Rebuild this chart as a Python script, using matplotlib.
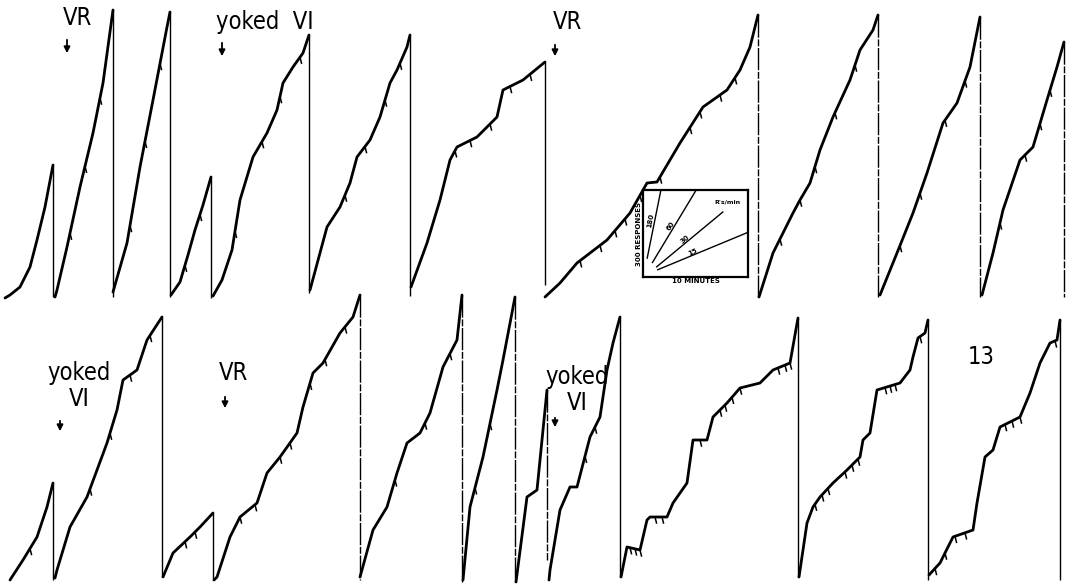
import numpy as np
import matplotlib.pyplot as plt

# cumulative records, top row (x = paper position, y = pen height, screen-down)
top_x = [
    [5, 10, 20, 30, 37, 45, 53],
    [55, 57, 67, 80, 93, 103, 113],
    [113, 127, 140, 153, 167, 170],
    [171, 180, 188, 195, 203, 211],
    [213, 222, 232, 240, 253, 267, 277, 283, 293, 303, 309],
    [310, 327, 340, 350, 357, 370, 380, 390, 397, 407, 410],
    [411, 427, 440, 450, 457, 477, 497, 503, 523, 545],
    [545, 560, 577, 607, 630, 647, 657, 680, 703, 727, 740, 750, 758],
    [759, 773, 793, 800, 810, 820, 833, 850, 860, 873, 878],
    [880, 897, 913, 927, 943, 957, 970, 980],
    [982, 993, 1003, 1020, 1033, 1047, 1057, 1064],
]
top_y = [
    [298, 295, 287, 267, 240, 207, 165],
    [297, 290, 247, 187, 133, 83, 10],
    [292, 243, 167, 100, 27, 12],
    [295, 282, 255, 230, 205, 177],
    [296, 280, 250, 200, 157, 133, 110, 83, 67, 53, 35],
    [290, 227, 207, 183, 157, 140, 117, 83, 70, 47, 35],
    [287, 243, 200, 160, 147, 137, 117, 90, 80, 62],
    [297, 283, 263, 240, 213, 183, 182, 143, 107, 90, 70, 47, 15],
    [297, 253, 213, 200, 183, 150, 117, 80, 50, 30, 15],
    [295, 253, 213, 173, 123, 103, 67, 17],
    [295, 253, 210, 160, 147, 100, 67, 42],
]
top_reset = [297, 297, 297, 298, 293, 296, 285, 297, 297, 297, 297]
top_broken = [False, False, False, False, False, False, False, True, True, True, True]
top_pips = [
    [], [70, 85, 100], [130, 145, 160], [185, 200],
    [235, 262, 280, 300], [345, 365, 385, 400],
    [455, 470, 490, 510, 530],
    [580, 600, 615, 625, 640, 660, 690, 700, 720, 735],
    [780, 800, 815, 835, 855], [900, 920, 945, 965],
    [1000, 1025, 1040, 1050],
]

# bottom row
bot_x = [
    [10, 23, 37, 47, 53],
    [55, 57, 70, 87, 97, 107, 117, 123, 137, 147, 162],
    [163, 173, 190, 200, 213],
    [214, 217, 230, 240, 257, 267, 280, 297, 303, 313, 323, 340, 353, 360],
    [360, 373, 387, 397, 407, 420, 430, 443, 457, 462],
    [463, 470, 483, 497, 503, 515],
    [516, 527, 537, 547],
    [549, 550, 560, 570, 577, 590, 600, 607, 613, 620],
    [621, 627, 640, 647, 650, 667, 673, 687, 693, 707, 713, 727, 740, 760, 773, 790, 798],
    [799, 807, 813, 820, 833, 847, 860, 863, 870, 877, 900, 910, 913, 918, 925, 928],
    [929, 940, 953, 973, 977, 985, 993, 1000, 1020, 1030, 1040, 1050, 1057, 1060],
]
bot_y = [
    [580, 560, 537, 507, 483],
    [578, 570, 527, 497, 470, 443, 410, 380, 370, 340, 317],
    [577, 553, 537, 527, 513],
    [580, 577, 537, 517, 503, 473, 457, 433, 407, 373, 363, 333, 317, 295],
    [577, 530, 507, 473, 443, 433, 413, 367, 340, 295],
    [580, 507, 457, 390, 360, 297],
    [582, 497, 490, 390],
    [580, 570, 510, 487, 487, 437, 417, 370, 343, 317],
    [577, 547, 550, 520, 517, 517, 503, 483, 440, 440, 417, 403, 388, 383, 370, 363, 318],
    [577, 523, 507, 497, 483, 470, 457, 440, 433, 390, 383, 370, 357, 338, 333, 320],
    [575, 563, 537, 530, 503, 457, 450, 427, 417, 393, 363, 343, 340, 320],
]
bot_reset = [580, 577, 580, 580, 582, 582, 560, 577, 577, 580, 580]
bot_broken = [False, False, False, True, True, True, True, False, False, False, False]
bot_pips = [
    [30], [90, 110, 130, 150], [185, 195],
    [240, 255, 280, 290, 310, 325, 345], [395, 425, 450], [475, 490], [],
    [585, 595],
    [630, 635, 640, 655, 662, 700, 720, 725, 732, 740, 778, 785, 790],
    [815, 822, 828, 845, 852, 858, 885, 890, 895, 920],
    [935, 945, 955, 965, 1005, 1012, 1020, 1055],
]

# condition labels and arrows
labels = ["VR", "yoked  VI", "VR", "yoked\nVI", "VR", "yoked\nVI", "13"]
label_x = [77, 265, 567, 79, 233, 577, 981]
label_y = [18, 22, 22, 386, 373, 390, 357]
arrow_x = [67, 222, 555, 60, 225, 555]
arrow_y0 = [37, 40, 42, 418, 394, 415]
arrow_y1 = [56, 59, 59, 434, 411, 430]

# inset calibration: response rates (R's/min)
rates = [180, 60, 30, 15]
rate_t0 = [0.4, 0.9, 1.3, 1.4]
rate_r0 = [65, 50, 35, 25]
rate_t1 = [3.0, 6.0, 7.6, 10.0]

fig = plt.figure(figsize=(10.74, 5.86), dpi=100)
ax = fig.add_axes([0, 0, 1, 1])
ax.set_xlim(0, 1074)
ax.set_ylim(586, 0)
ax.axis('off')

rows = [(top_x, top_y, top_reset, top_broken, top_pips),
        (bot_x, bot_y, bot_reset, bot_broken, bot_pips)]
for xs, ys, rs, br, pp in rows:
    for x, y, r, b, p in zip(xs, ys, rs, br, pp):
        ax.plot(x, y, color='black', lw=2.0, solid_capstyle='round')
        ls = (0, (16, 1.2, 5, 1.2)) if b else '-'
        ax.vlines(x[-1], y[-1], r, color='black', lw=1.0, linestyles=[ls])
        for px in p:
            py = np.interp(px, x, y)
            ax.plot([px, px + 1.5], [py, py + 6], color='black', lw=1.1)

for t, x, y in zip(labels, label_x, label_y):
    ax.text(x, y, t, ha='center', va='center', fontsize=17, fontstretch='condensed',
            family='DejaVu Sans', linespacing=1.1)

for x, y0, y1 in zip(arrow_x, arrow_y0, arrow_y1):
    ax.annotate('', xy=(x, y1), xytext=(x, y0),
                arrowprops=dict(arrowstyle='-|>', color='black', lw=1.3, mutation_scale=9))

ins = fig.add_axes([643 / 1074, 1 - 277 / 586, 105 / 1074, 87 / 586])
ins.set_xlim(0, 10)
ins.set_ylim(0, 300)
ins.set_xticks([])
ins.set_yticks([])
for s in ins.spines.values():
    s.set_linewidth(1.6)
for rt, t0, r0, t1 in zip(rates, rate_t0, rate_r0, rate_t1):
    t = np.array([t0, t1])
    ins.plot(t, r0 + rt * (t - t0), color='black', lw=1.0)
ins.text(0.75, 195, "180", rotation=80, fontsize=5, fontweight='bold', ha='center', va='center')
ins.text(2.6, 175, "60", rotation=55, fontsize=5, fontweight='bold', ha='center', va='center')
ins.text(4.0, 130, "30", rotation=40, fontsize=5, fontweight='bold', ha='center', va='center')
ins.text(4.7, 85, "15", rotation=25, fontsize=5, fontweight='bold', ha='center', va='center')
ins.text(8.0, 258, "R's/min", fontsize=4.5, fontweight='bold', ha='center', va='center')
ins.set_xlabel("10 MINUTES", fontsize=5, fontweight='bold', labelpad=1)
ins.set_ylabel("300 RESPONSES", fontsize=5, fontweight='bold', labelpad=1)

fig.savefig("out.png", dpi=100)
